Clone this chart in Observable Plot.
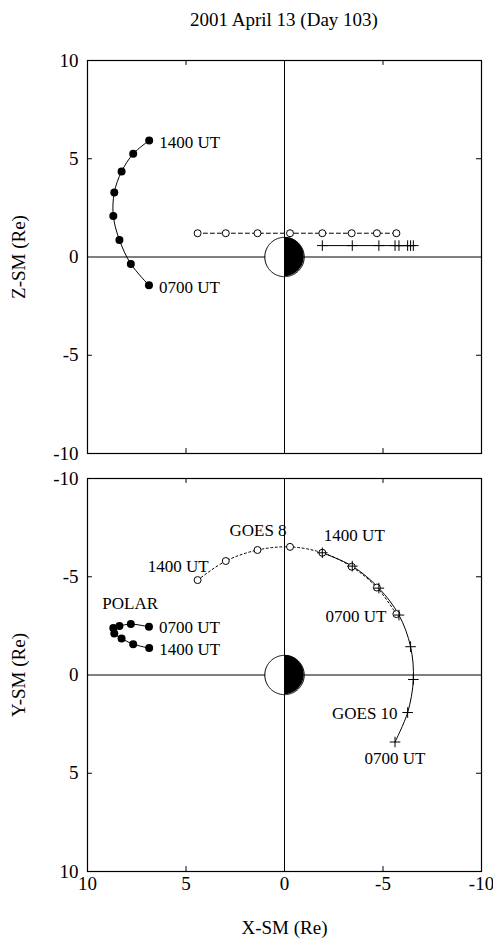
<!DOCTYPE html>
<html>
<head>
<meta charset="utf-8">
<script src="https://cdn.jsdelivr.net/npm/d3@7"></script>
<script src="https://cdn.jsdelivr.net/npm/@observablehq/plot@0.6"></script>
<style>
  body { margin: 0; background: #fff; font-family: "Liberation Serif", "Times New Roman", serif; }
  #title { height: 40px; line-height: 40px; padding-left: 87px; padding-right: 12px; text-align: center; font-size: 19px; color: #000; }
  svg, svg text { font-family: "Liberation Serif", "Times New Roman", serif !important; font-variant: normal !important; }
</style>
</head>
<body>
<div id="title">2001 April 13 (Day 103)</div>
<div id="top"></div>
<div id="bottom"></div>
<script>
// ---- axes ----
const xTicks = [10, 5, 0, -5, -10];
const yTicks = [-10, -5, 0, 5, 10];
const minorTicks = [-5, 5];
const xDomain = [10, -10];
const yDomain = [-10, 10];
const earthRadius = 1;

// ---- POLAR (0700 UT -> 1400 UT) ----
const polarX = [6.88, 7.80, 8.38, 8.69, 8.64, 8.27, 7.68, 6.87];
const polarZ = [-1.44, -0.35, 0.87, 2.09, 3.28, 4.35, 5.25, 5.93];
const polarY = [-2.45, -2.59, -2.49, -2.39, -2.11, -1.86, -1.57, -1.37];

// ---- GOES 8 (0700 UT -> 1400 UT) ----
const goes8X = [-5.68, -4.69, -3.41, -1.92, -0.28, 1.37, 2.98, 4.41];
const goes8Z = [1.21, 1.21, 1.21, 1.21, 1.21, 1.21, 1.21, 1.21];
const goes8Y = [-3.10, -4.45, -5.51, -6.22, -6.52, -6.36, -5.80, -4.83];

// ---- GOES 10 (0700 UT -> 1400 UT) ----
const goes10X = [-5.61, -6.25, -6.54, -6.40, -5.81, -4.79, -3.44, -1.92];
const goes10Z = [0.58, 0.58, 0.58, 0.58, 0.58, 0.58, 0.58, 0.58];
const goes10Y = [3.41, 1.91, 0.23, -1.44, -3.05, -4.42, -5.54, -6.22];

const pts = (xs, ys) => xs.map((x, i) => ({x, y: ys[i]}));

// Earth disc (1 Re): outline and half-disc profile
const earthOutline = d3.range(0, 361, 3).map(a => ({x: earthRadius * Math.cos(a * Math.PI / 180), y: earthRadius * Math.sin(a * Math.PI / 180)}));
const earthHalf = d3.range(-90, 91, 3).map(a => ({y: earthRadius * Math.sin(a * Math.PI / 180), w: earthRadius * Math.cos(a * Math.PI / 180)}));

const FONT = '"Liberation Serif", "Times New Roman", serif';
const tickLen = 0.25;
const fmt = d => String(d);

function baseMarks() {
  return [
    Plot.ruleX([0], {stroke: "black", strokeWidth: 1}),
    Plot.ruleY([0], {stroke: "black", strokeWidth: 1}),
    Plot.areaX(earthHalf, {y: "y", x1: 0, x2: "w", fill: "white"}),
    Plot.areaX(earthHalf, {y: "y", x1: 0, x2: d => -d.w, fill: "black"}),
    Plot.line(earthOutline, {x: "x", y: "y", stroke: "black", strokeWidth: 1}),
    // inward minor ticks on the frame
    Plot.ruleY(minorTicks, {x1: xDomain[0], x2: xDomain[0] - tickLen, stroke: "black"}),
    Plot.ruleY(minorTicks, {x1: xDomain[1], x2: xDomain[1] + tickLen, stroke: "black"}),
    Plot.ruleX(minorTicks, {y1: yDomain[0], y2: yDomain[0] + tickLen, stroke: "black"}),
    Plot.ruleX(minorTicks, {y1: yDomain[1], y2: yDomain[1] - tickLen, stroke: "black"}),
    Plot.frame({stroke: "black", strokeWidth: 1.2})
  ];
}

function label(p, text, anchor, dx, dy) {
  return Plot.text([p], {x: "x", y: "y", text: [text], textAnchor: anchor, dx, dy, fontSize: 17, fill: "black"});
}

// ---------------- TOP PANEL: X-SM vs Z-SM ----------------
const polarTop = pts(polarX, polarZ);
const goes8Top = pts(goes8X, goes8Z);
const goes10Top = pts(goes10X, goes10Z);

const topPlot = Plot.plot({
  width: 493,
  height: 425,
  marginLeft: 87,
  marginRight: 12,
  marginTop: 20,
  marginBottom: 12,
  style: {fontFamily: FONT, fontSize: "19px", color: "black", background: "white"},
  x: {domain: xDomain, axis: null},
  y: {domain: yDomain},
  marks: [
    ...baseMarks(),
    Plot.axisY({ticks: yTicks, tickFormat: fmt, tickSize: 0, tickPadding: 9, fontSize: 19, fill: "black", label: "Z-SM (Re)", labelAnchor: "center", labelOffset: 76, labelArrow: "none"}),
    Plot.line(goes8Top, {x: "x", y: "y", stroke: "black", strokeWidth: 1, strokeDasharray: "4,3"}),
    Plot.line(goes10Top, {x: "x", y: "y", stroke: "black", strokeWidth: 1}),
    Plot.line(polarTop, {x: "x", y: "y", stroke: "black", strokeWidth: 1, curve: "catmull-rom"}),
    Plot.dot(goes8Top, {x: "x", y: "y", r: 3.5, fill: "white", stroke: "black", strokeWidth: 1}),
    Plot.dot(goes10Top, {x: "x", y: "y", symbol: "plus", r: 3.5, stroke: "black", strokeWidth: 1}),
    Plot.dot(polarTop, {x: "x", y: "y", r: 4, fill: "black"}),
    label(polarTop[7], "1400 UT", "start", 10, 2),
    label(polarTop[0], "0700 UT", "start", 10, 2)
  ]
});
document.getElementById("top").appendChild(topPlot);

// ---------------- BOTTOM PANEL: X-SM vs Y-SM ----------------
const polarBot = pts(polarX, polarY);
const goes8Bot = pts(goes8X, goes8Y);
const goes10Bot = pts(goes10X, goes10Y);

const bottomPlot = Plot.plot({
  width: 493,
  height: 479,
  marginLeft: 87,
  marginRight: 12,
  marginTop: 13,
  marginBottom: 73,
  style: {fontFamily: FONT, fontSize: "19px", color: "black", background: "white", overflow: "visible"},
  x: {domain: xDomain},
  y: {domain: yDomain, reverse: true},
  marks: [
    ...baseMarks(),
    Plot.axisY({ticks: yTicks, tickFormat: fmt, tickSize: 0, tickPadding: 9, fontSize: 19, fill: "black", label: "Y-SM (Re)", labelAnchor: "center", labelOffset: 76, labelArrow: "none"}),
    Plot.axisX({ticks: xTicks, tickFormat: fmt, tickSize: 0, tickPadding: 5, fontSize: 19, fill: "black", label: "X-SM (Re)", labelAnchor: "center", labelOffset: 62, labelArrow: "none"}),
    Plot.line(goes10Bot, {x: "x", y: "y", stroke: "black", strokeWidth: 1, curve: "catmull-rom"}),
    Plot.line(goes8Bot, {x: "x", y: "y", stroke: "black", strokeWidth: 1, strokeDasharray: "2,2.5", curve: "catmull-rom"}),
    Plot.line(polarBot, {x: "x", y: "y", stroke: "black", strokeWidth: 1, curve: "catmull-rom"}),
    Plot.dot(goes8Bot, {x: "x", y: "y", r: 3.5, fill: "white", stroke: "black", strokeWidth: 1}),
    Plot.dot(goes10Bot, {x: "x", y: "y", symbol: "plus", r: 3.5, stroke: "black", strokeWidth: 1}),
    Plot.dot(polarBot, {x: "x", y: "y", r: 4, fill: "black"}),
    label(goes8Bot[4], "GOES 8", "middle", -32, -16),
    label(goes10Bot[7], "1400 UT", "middle", 32, -17),
    label(goes8Bot[7], "1400 UT", "end", 11, -14),
    label(goes8Bot[0], "0700 UT", "end", -10, 2),
    label(goes10Bot[1], "GOES 10", "end", -10, 1),
    label(goes10Bot[0], "0700 UT", "middle", 0, 17),
    label(polarBot[3], "POLAR", "start", -11, -24),
    label(polarBot[0], "0700 UT", "start", 10, 1),
    label(polarBot[7], "1400 UT", "start", 10, 1)
  ]
});
document.getElementById("bottom").appendChild(bottomPlot);
</script>
</body>
</html>
